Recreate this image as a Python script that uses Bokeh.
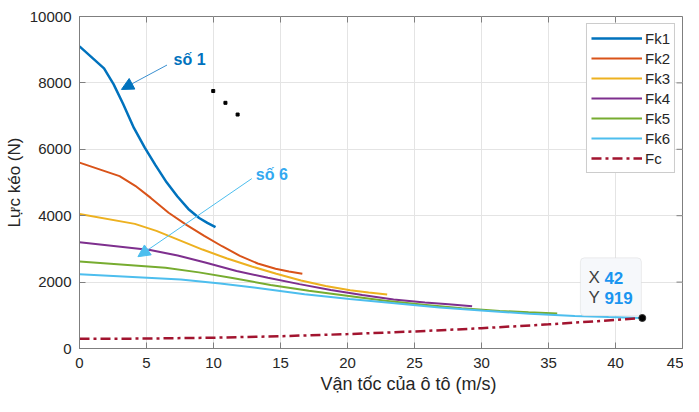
from bokeh.plotting import figure
from bokeh.models import (Range1d, FixedTicker, Arrow, NormalHead, Label, BoxAnnotation, Title)
from bokeh.embed import file_html
from bokeh.resources import INLINE

# ---------------- data ----------------
fk1_v = [0, 1.83, 2.54, 3.25, 4.06, 4.87, 5.68, 6.50, 7.31, 8.12, 8.93, 9.54, 10.15]
fk1_F = [9100, 8436, 7963, 7371, 6643, 6052, 5515, 5005, 4577, 4204, 3931, 3786, 3658]

fk2_v = [0, 2.99, 4.16, 5.32, 6.65, 7.98, 9.31, 10.64, 11.97, 13.30, 14.63, 15.63, 16.63]
fk2_F = [5600, 5191, 4900, 4536, 4088, 3724, 3394, 3080, 2790, 2560, 2400, 2320, 2251]

fk3_v = [0, 4.13, 5.74, 7.35, 9.18, 11.02, 12.86, 14.69, 16.53, 18.37, 20.20, 21.58, 22.96]
fk3_F = [4050, 3754, 3544, 3281, 2980, 2710, 2470, 2250, 2050, 1880, 1755, 1688, 1628]

fk4_v = [0, 5.27, 7.33, 9.38, 11.72, 14.06, 16.41, 18.75, 21.10, 23.44, 25.78, 27.54, 29.3]
fk4_F = [3200, 2966, 2800, 2592, 2336, 2128, 1939, 1760, 1610, 1478, 1382, 1331, 1275]

fk5_v = [0, 6.42, 8.91, 11.41, 14.26, 17.11, 19.96, 22.82, 25.67, 28.52, 31.37, 33.51, 35.65]
fk5_F = [2620, 2429, 2293, 2122, 1913, 1742, 1588, 1441, 1318, 1210, 1132, 1090, 1055]

fk6_v = [0, 7.56, 10.5, 13.44, 16.8, 20.16, 23.52, 26.88, 30.24, 33.6, 36.96, 39.48, 42]
fk6_F = [2240, 2077, 1960, 1815, 1635, 1490, 1360, 1235, 1135, 1045, 980, 946, 919]

fc_v = [0, 5, 10, 15, 20, 25, 30, 35, 40, 42]
fc_F = [290, 299, 326, 370, 433, 513, 611, 727, 860, 919]

series_names = ["Fk1", "Fk2", "Fk3", "Fk4", "Fk5", "Fk6", "Fc"]
series_colors = ["#0072BD", "#D95319", "#EDB120", "#7E2F8E", "#77AC30", "#4DBEEE", "#A2142F"]

dots_x = [9.98, 10.89, 11.80]
dots_y = [7756, 7400, 7047]

x_ticks = [0, 5, 10, 15, 20, 25, 30, 35, 40, 45]
y_ticks = [0, 2000, 4000, 6000, 8000, 10000]

x_title = "Vận tốc của ô tô (m/s)"
y_title = "Lực kéo (N)"

FONT = "Liberation Sans"
TXT = "#262626"
AX = "#7f7f7f"

W, H = 683, 396
BL, BR, BT, BB = 79, 1, 16, 48
X0, X1, Y0, Y1 = 0, 45, 0, 10000
fw = W - BL - BR
fh = H - BT - BB

p = figure(width=W, height=H, x_range=Range1d(X0, X1), y_range=Range1d(Y0, Y1),
           output_backend="svg", toolbar_location=None,
           min_border_left=BL, min_border_right=BR, min_border_top=BT, min_border_bottom=BB)

p.background_fill_color = "white"
p.border_fill_color = "white"
p.outline_line_color = AX
p.outline_line_width = 1
p.grid.grid_line_color = "#e4e4e4"
p.grid.grid_line_width = 1

p.xaxis.ticker = FixedTicker(ticks=x_ticks)
p.yaxis.ticker = FixedTicker(ticks=y_ticks)

for ax in [p.xaxis[0], p.yaxis[0]]:
    ax.axis_line_color = AX
    ax.major_tick_line_color = AX
    ax.major_tick_in = 6
    ax.major_tick_out = 0
    ax.minor_tick_line_color = None
    ax.major_label_text_font = FONT
    ax.major_label_text_font_size = "15px"
    ax.major_label_text_color = TXT
    ax.axis_label_text_font = FONT
    ax.axis_label_text_font_style = "normal"
    ax.axis_label_text_color = TXT

p.yaxis.axis_label = y_title
p.yaxis.axis_label_text_font_size = "17px"
p.xaxis.major_label_standoff = 9
p.yaxis.major_label_standoff = 8
p.yaxis.axis_label_standoff = 3
p.yaxis.major_label_orientation = "horizontal"

# x title, sitting a little right of the axis centre as in the source
xt = Title(text=x_title, align="left", offset=241, text_font=FONT, text_font_size="18px",
           text_font_style="normal", text_color=TXT, standoff=2)
p.add_layout(xt, "below")

# inward ticks on the top and right edges of the box
tick_dx = 6 * (X1 - X0) / fw
tick_dy = 6 * (Y1 - Y0) / fh
p.segment(x0=x_ticks, y0=[Y1] * len(x_ticks), x1=x_ticks, y1=[Y1 - tick_dy] * len(x_ticks),
          line_color=AX, line_width=1)
p.segment(x0=[X1] * len(y_ticks), y0=y_ticks, x1=[X1 - tick_dx] * len(y_ticks), y1=y_ticks,
          line_color=AX, line_width=1)

# ---------------- lines ----------------
all_v = [fk1_v, fk2_v, fk3_v, fk4_v, fk5_v, fk6_v]
all_F = [fk1_F, fk2_F, fk3_F, fk4_F, fk5_F, fk6_F]
for i, (v, F) in enumerate(zip(all_v, all_F)):
    p.line(v, F, line_color=series_colors[i], line_width=2.5 if i == 0 else 2,
           legend_label=series_names[i])
p.line(fc_v, fc_F, line_color=series_colors[6], line_width=2.5, line_dash="10 4 3 4",
       legend_label=series_names[6])

# ellipsis dots
p.scatter(dots_x, dots_y, marker="square", size=3, fill_color="black", line_color="black")

# ---------------- annotations ----------------
p.add_layout(Arrow(end=NormalHead(size=12, fill_color="#0072BD", line_color="#0072BD", line_width=1),
                   x_start=6.53, y_start=8538, x_end=3.13, y_end=7803,
                   line_color="#3a8fd0", line_width=1))
p.add_layout(Label(x=7.02, y=8706, text="số 1", text_font=FONT, text_font_size="16px",
                   text_font_style="bold", text_color="#0072BD", text_baseline="middle"))

p.add_layout(Arrow(end=NormalHead(size=12, fill_color="#4DBEEE", line_color="#4DBEEE", line_width=1),
                   x_start=12.86, y_start=5118, x_end=4.36, y_end=2765,
                   line_color="#4DBEEE", line_width=1))
p.add_layout(Label(x=13.16, y=5235, text="số 6", text_font=FONT, text_font_size="16px",
                   text_font_style="bold", text_color="#33A9F0", text_baseline="middle"))

# datatip
p.add_layout(BoxAnnotation(left=37.38, right=41.93, bottom=990, top=2730,
                           fill_color="#f6f8fb", fill_alpha=1.0,
                           line_color="#c6c6c6", line_width=1, border_radius=4))
tip_x = fc_v[-1]
tip_y = fc_F[-1]
p.add_layout(Label(x=37.99, y=2138, text="X", text_font=FONT, text_font_size="17px",
                   text_color="#404040", text_baseline="middle"))
p.add_layout(Label(x=39.17, y=2138, text=f"{tip_x:g}", text_font=FONT, text_font_size="17px",
                   text_font_style="bold", text_color="#1a95f0", text_baseline="middle"))
p.add_layout(Label(x=37.99, y=1529, text="Y", text_font=FONT, text_font_size="17px",
                   text_color="#404040", text_baseline="middle"))
p.add_layout(Label(x=39.17, y=1529, text=f"{tip_y:g}", text_font=FONT, text_font_size="17px",
                   text_font_style="bold", text_color="#1a95f0", text_baseline="middle"))
mk = p.scatter([tip_x], [tip_y], size=7, fill_color="black", line_color="#333333")
mk.level = "overlay"

# ---------------- legend ----------------
lg = p.legend[0]
lg.location = "top_right"
lg.margin = 7
lg.padding = 4
lg.spacing = 0
lg.glyph_width = 51
lg.glyph_height = 20
lg.label_height = 20
lg.label_standoff = 3
lg.label_text_font = FONT
lg.label_text_font_size = "15px"
lg.label_text_color = TXT
lg.border_line_color = "#999999"
lg.border_line_width = 1
lg.background_fill_color = "white"
lg.background_fill_alpha = 1.0

open("out.html", "w").write(file_html(p, INLINE))
